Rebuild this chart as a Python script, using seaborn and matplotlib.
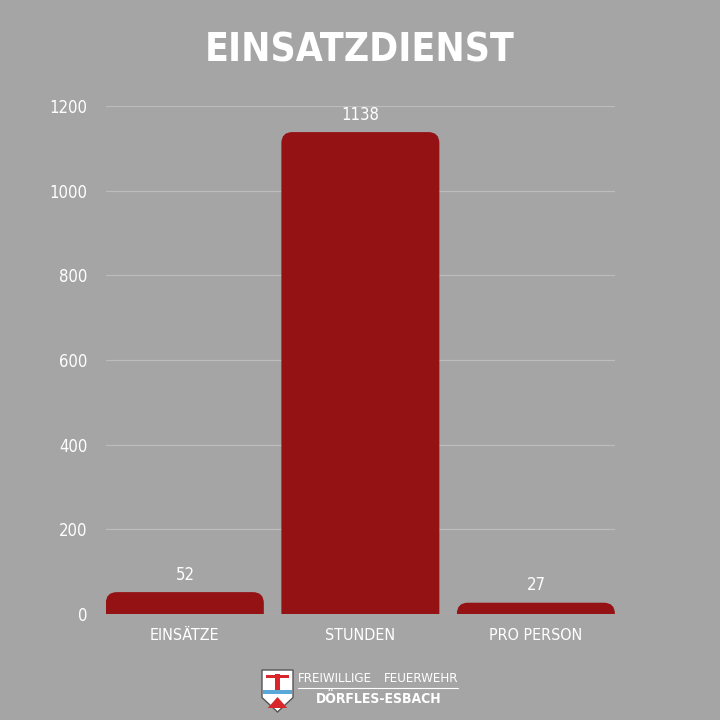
import matplotlib
matplotlib.use("Agg")
import matplotlib.pyplot as plt
import seaborn as sns
import pandas as pd
from matplotlib import font_manager
from matplotlib.font_manager import FontProperties
from matplotlib.patches import FancyBboxPatch, Polygon, Rectangle
from matplotlib.lines import Line2D

categories = ["EINSÄTZE", "STUNDEN", "PRO PERSON"]
values = [52, 1138, 27]
yticks = [0, 200, 400, 600, 800, 1000, 1200]
title = "EINSATZDIENST"

BG = "#a5a5a5"
BAR = "#941114"
GRID = "#bcbcbc"

sns.set_theme(style="white")
plt.rcParams["font.family"] = ["Roboto", "DejaVu Sans"]

# find a condensed font if available
cond = []
for f in font_manager.fontManager.ttflist:
    nm = (f.name + " " + f.fname).lower()
    if ("condensed" in nm or "narrow" in nm or str(f.stretch) in
            ("condensed", "semi-condensed", "extra-condensed")):
        if "oblique" in nm or "italic" in nm or f.style != "normal":
            continue
        cond.append(f)

def pick(bold):
    best = None
    for f in cond:
        w = f.weight if isinstance(f.weight, int) else (700 if "bold" in str(f.weight) else 400)
        score = abs(w - (700 if bold else 400))
        if best is None or score < best[0]:
            best = (score, f)
    return best[1].fname if best else None

reg_file = pick(False)
bold_file = pick(True)
HAVE_COND = reg_file is not None

def fp(size, bold=False):
    if HAVE_COND:
        return FontProperties(fname=bold_file if bold else reg_file, size=size)
    return FontProperties(family=["Roboto", "DejaVu Sans"], size=size * 0.85,
                          weight="bold" if bold else "normal")

fig = plt.figure(figsize=(7.2, 7.2), dpi=100, facecolor=BG)
ax = fig.add_axes([0.147, 0.147, 0.707, 0.706])
ax.set_facecolor(BG)

df = pd.DataFrame({"cat": categories, "val": values})
sns.barplot(data=df, x="cat", y="val", color=BAR, width=0.9, saturation=1,
            ax=ax, zorder=3)

ax.set_ylim(0, 1200)
ax.set_xlim(-0.45, 2.45)
ax.set_yticks(yticks)
ax.set_yticklabels([str(t) for t in yticks])
ax.grid(axis="y", color=GRID, linewidth=0.9, zorder=0)
ax.grid(axis="x", visible=False)
for s in ax.spines.values():
    s.set_visible(False)
ax.tick_params(axis="both", length=0, colors="white")
ax.tick_params(axis="y", pad=13)
ax.tick_params(axis="x", pad=10)
for lbl in ax.get_xticklabels():
    lbl.set_fontproperties(fp(11.5))
for lbl in ax.get_yticklabels():
    lbl.set_fontproperties(fp(12))
ax.set_xlabel("")
ax.set_ylabel("")

# rounded tops: replace bars with rounded boxes (bottom extends below axis, clipped)
fig.canvas.draw()
x_per_px = (ax.get_xlim()[1] - ax.get_xlim()[0]) / ax.bbox.width
y_per_px = (ax.get_ylim()[1] - ax.get_ylim()[0]) / ax.bbox.height
r_px = 11
rx = r_px * x_per_px
ry = r_px * y_per_px
for p in list(ax.patches):
    x0, w, h = p.get_x(), p.get_width(), p.get_height()
    p.set_visible(False)
    fb = FancyBboxPatch((x0, -2 * ry), w, h + 2 * ry,
                        boxstyle=f"round,pad=0,rounding_size={rx}",
                        mutation_aspect=y_per_px / x_per_px,
                        facecolor=BAR, edgecolor="none", zorder=3)
    ax.add_patch(fb)
    fb.set_clip_box(ax.bbox)

for cont in ax.containers:
    labs = ax.bar_label(cont, labels=[str(v) for v in values], padding=6,
                        color="white")
    for t in labs:
        t.set_fontproperties(fp(12))

fig.text(0.5, 0.93, title, ha="center", va="center", color="white",
         fontproperties=fp(28, bold=True))

# footer logo: shield + text
sx0, sx1 = 262 / 720, 293 / 720
sy_top, sy_bot = 1 - 670 / 720, 1 - 712 / 720
shield = Polygon([(sx0, sy_top), (sx1, sy_top), (sx1, sy_bot + 0.02),
                  ((sx0 + sx1) / 2, sy_bot), (sx0, sy_bot + 0.02)],
                 closed=True, transform=fig.transFigure, facecolor="white",
                 edgecolor="#555555", linewidth=1)
fig.patches.append(shield)
fig.patches.append(Rectangle((sx0 + 0.002, 1 - 694 / 720), sx1 - sx0 - 0.004, 0.006,
                             transform=fig.transFigure, facecolor="#5aa7d8",
                             edgecolor="none"))
fig.patches.append(Polygon([(sx0 + 0.008, 1 - 708 / 720), (sx1 - 0.008, 1 - 708 / 720),
                            ((sx0 + sx1) / 2, 1 - 697 / 720)], closed=True,
                           transform=fig.transFigure, facecolor="#d8262b",
                           edgecolor="none"))
fig.patches.append(Rectangle(((sx0 + sx1) / 2 - 0.003, 1 - 690 / 720), 0.006, 0.022,
                             transform=fig.transFigure, facecolor="#d8262b",
                             edgecolor="none"))
fig.patches.append(Rectangle((sx0 + 0.006, 1 - 678 / 720), sx1 - sx0 - 0.012, 0.004,
                             transform=fig.transFigure, facecolor="#d8262b",
                             edgecolor="none"))

fig.text(298 / 720, 1 - 678 / 720, "FREIWILLIGE", ha="left", va="center",
         color="white", fontproperties=fp(9.5))
fig.text(458 / 720, 1 - 678 / 720, "FEUERWEHR", ha="right", va="center",
         color="white", fontproperties=fp(9.5))
fig.lines.append(Line2D([298 / 720, 458 / 720], [1 - 688 / 720, 1 - 688 / 720],
                        transform=fig.transFigure, color="white", linewidth=0.8))
fig.text(379 / 720, 1 - 699 / 720, "DÖRFLES-ESBACH", ha="center", va="center",
         color="white", fontproperties=fp(10, bold=True))

fig.savefig("out.png", dpi=100, facecolor=BG)
